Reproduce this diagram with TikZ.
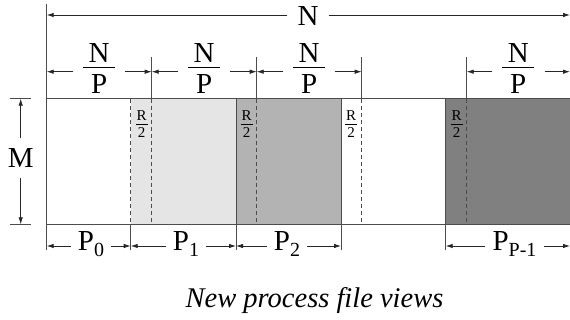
\documentclass[tikz,border=0pt]{standalone}
\usepackage{fontspec}
\setmainfont{LiberationSerif}[Extension=.ttf,UprightFont=*-Regular,ItalicFont=*-Italic,BoldFont=*-Bold,BoldItalicFont=*-BoldItalic]
\usetikzlibrary{arrows.meta}
\definecolor{lineC}{gray}{0.3}
\definecolor{fillA}{HTML}{E5E5E5}
\definecolor{fillB}{HTML}{B3B3B3}
\definecolor{fillC}{HTML}{808080}
\newcommand\bigfrac[2]{\vbox{\offinterlineskip\hbox to 32pt{\hfil#1\hfil}\kern4.3pt\hrule height 0.9pt\kern6.3pt\hbox to 32pt{\hfil#2\hfil}}}
\newcommand\smallfrac[2]{\vbox{\offinterlineskip\hbox to 12pt{\hfil#1\hfil}\kern3.4pt\hrule height 0.6pt\kern3pt\hbox to 12pt{\hfil#2\hfil}}}
\newcommand\Psub[1]{P\raisebox{-6pt}{\fontsize{20}{20}\selectfont#1}}
\begin{document}
\begin{tikzpicture}[x=1pt,y=-1pt,
  big/.style={font=\fontsize{29}{30}\selectfont, inner sep=0pt},
  small/.style={font=\fontsize{15}{16}\selectfont, inner sep=0pt},
  plab/.style={font=\fontsize{29}{30}\selectfont, inner ysep=0pt, inner xsep=7pt, anchor=base},
  dim/.style={draw=black!85, line width=0.8pt, -{Latex[length=7pt,width=4.5pt]}},
  edgeline/.style={draw=lineC, line width=0.9pt},
  dashline/.style={draw=lineC, line width=0.9pt, dash pattern=on 4pt off 3pt}]
\useasboundingbox (0,0) rectangle (570,320);
% fills
\fill[fillA] (130.7,98.7) rectangle (236,224.3);
\fill[fillB] (236,98.7) rectangle (341,224.3);
\fill[fillC] (445.7,98.7) rectangle (570,224.3);
% rectangle outline
\draw[edgeline] (46.7,98.7) -- (570,98.7);
\draw[edgeline] (46.7,224.3) -- (570,224.3);
\draw[edgeline] (46.7,4) -- (46.7,250);
\draw[edgeline] (236,98.7) -- (236,250);
\draw[edgeline] (341,98.7) -- (341,250);
\draw[edgeline] (445.7,98.7) -- (445.7,250);
\draw[dashline] (130.7,98.7) -- (130.7,224.3);
\draw[edgeline] (130.7,224.3) -- (130.7,250);
\foreach \x in {151.7,256.7,361.7,466.7}{
  \draw[edgeline] (\x,57) -- (\x,98.7);
  \draw[dashline] (\x,98.7) -- (\x,224.3);
}
% M dimension
\draw[edgeline] (10,98.7) -- (31,98.7);
\draw[edgeline] (10,224.3) -- (31,224.3);
\node[big, inner ysep=10pt] (M) at (20.7,158) {M};
\coordinate (mt) at (20.7,98.7);
\coordinate (mb) at (20.7,224.3);
\draw[dim] (M.north) -- (mt);
\draw[dim] (M.south) -- (mb);
% N dimension
\node[big, inner xsep=10pt] (N) at (308,16.5) {N};
\coordinate (aNL) at (46.7,15);
\coordinate (aNR) at (570,15);
\draw[dim] (N.west |- aNL) -- (aNL);
\draw[dim] (N.east |- aNR) -- (aNR);
% N/P dimensions
\coordinate (k0) at (46.7,71.7);
\coordinate (k1) at (151.7,71.7);
\coordinate (k2) at (256.7,71.7);
\coordinate (k3) at (361.7,71.7);
\coordinate (k4) at (466.7,71.7);
\coordinate (k5) at (570,71.7);
\node[big, inner xsep=10pt] (f1) at (99.2,68.5) {\bigfrac{N}{P}};
\node[big, inner xsep=10pt] (f2) at (204.2,68.5) {\bigfrac{N}{P}};
\node[big, inner xsep=10pt] (f3) at (309.2,68.5) {\bigfrac{N}{P}};
\node[big, inner xsep=10pt] (f4) at (518.3,68.5) {\bigfrac{N}{P}};
\draw[dim] (f1.west |- k0) -- (k0);
\draw[dim] (f1.east |- k1) -- (k1);
\draw[dim] (f2.west |- k1) -- (k1);
\draw[dim] (f2.east |- k2) -- (k2);
\draw[dim] (f3.west |- k2) -- (k2);
\draw[dim] (f3.east |- k3) -- (k3);
\draw[dim] (f4.west |- k4) -- (k4);
\draw[dim] (f4.east |- k5) -- (k5);
% R/2 labels
\node[small] (r1) at (141.5,124.5) {\smallfrac{R}{2}};
\node[small] (r2) at (246.5,124.5) {\smallfrac{R}{2}};
\node[small] (r3) at (351,124.5) {\smallfrac{R}{2}};
\node[small] (r4) at (456.5,124.5) {\smallfrac{R}{2}};
% P dimensions
\coordinate (b0) at (46.7,246);
\coordinate (b1) at (130.7,246);
\coordinate (b2) at (236,246);
\coordinate (b3) at (341,246);
\coordinate (b4) at (445.7,246);
\coordinate (b5) at (570,246);
\node[plab] (p0) at (91,250.7) {\Psub{0}};
\node[plab] (p1) at (186,250.7) {\Psub{1}};
\node[plab] (p2) at (287,250.7) {\Psub{2}};
\node[plab] (p3) at (514.5,250.7) {\Psub{P-1}};
\draw[dim] (p0.west |- b0) -- (b0);
\draw[dim] (p0.east |- b1) -- (b1);
\draw[dim] (p1.west |- b1) -- (b1);
\draw[dim] (p1.east |- b2) -- (b2);
\draw[dim] (p2.west |- b2) -- (b2);
\draw[dim] (p2.east |- b3) -- (b3);
\draw[dim] (p3.west |- b4) -- (b4);
\draw[dim] (p3.east |- b5) -- (b5);
% caption
\node[font=\fontsize{28.5}{30}\selectfont\itshape, anchor=base, inner sep=0pt] (cap) at (314.5,308) {New process file views};
\end{tikzpicture}
\end{document}
